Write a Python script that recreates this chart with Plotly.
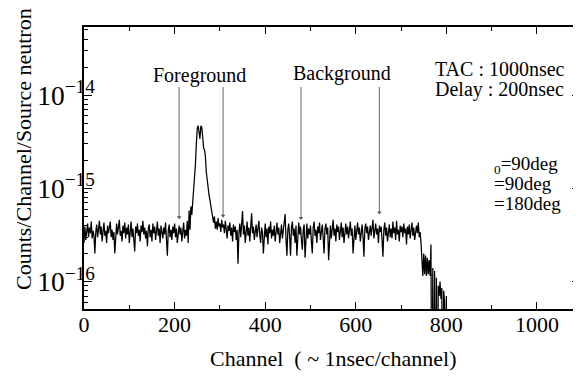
import plotly.graph_objects as go

# ---- data (counts per channel per source neutron, in units of 1e-16) ----
UNIT = 1e-16
CH_STEP = 2  # channel spacing of the sampled spectrum

# channels 0..230
seg_baseline_a = [
    2.6, 3.9, 2.8, 3.6, 4.2, 3.0, 3.8, 3.3, 4.4, 2.9,
    3.5, 3.1, 2.0, 3.4, 4.1, 3.0, 3.7, 4.5, 3.2, 3.9,
    2.7, 3.6, 4.3, 3.1, 3.5, 2.6, 4.0, 3.3, 3.8, 4.4,
    3.0, 3.6, 2.8, 3.4, 2.0, 3.7, 4.2, 3.2, 3.9, 4.6,
    3.1, 3.5, 2.7, 4.0, 3.3, 4.3, 2.9, 3.8, 3.2, 4.1,
    2.6, 3.6, 4.4, 3.0, 3.7, 2.8, 2.1, 3.9, 3.3, 4.2,
    3.1, 3.6, 2.7, 4.0, 3.4, 4.5, 3.2, 3.8, 2.9, 3.5,
    2.4, 3.7, 4.1, 3.0, 3.6, 2.7, 4.2, 3.3, 3.9, 2.8,
    3.5, 4.4, 3.1, 3.7, 2.6, 4.0, 3.4, 2.9, 3.8, 3.2,
    4.3, 2.7, 1.9, 3.5, 4.1, 3.0, 3.6, 2.8, 3.9, 3.3,
    4.2, 3.0, 3.7, 2.6, 3.4, 4.0, 3.2, 3.8, 2.7, 3.5,
    4.3, 2.9, 3.6, 3.1, 4.5, 2.6,
]
# channels 232..290 (foreground peak)
seg_peak = [
    5.8, 3.6, 6.4, 5.2, 7.0, 9.0, 12.0, 18.0, 30.0, 44.0,
    47.0, 36.0, 34.0, 47.0, 45.0, 36.0, 27.0, 26.0, 22.0, 15.0,
    12.0, 9.5, 8.5, 7.5, 6.5, 5.6, 5.0, 4.3, 5.0, 3.7,
]
# channels 292..740
seg_baseline_b = [
    4.4, 3.6, 4.8, 3.9, 4.2, 3.4, 4.6, 3.8, 4.1, 3.3,
    4.5, 3.7, 2.9, 4.0, 3.5, 4.3, 3.1, 3.8, 2.7, 4.1,
    3.4, 3.9, 2.8, 3.6, 1.55, 3.3, 4.2, 3.0, 4.6, 5.7,
    3.2, 4.0, 2.6, 3.7, 4.4, 3.1, 3.8, 2.7, 4.2, 5.4,
    3.3, 3.9, 2.8, 3.5, 4.1, 3.0, 3.7, 4.5, 3.2, 2.6,
    3.8, 3.4, 2.0, 3.6, 4.2, 3.0, 3.7, 2.5, 3.9, 3.3,
    4.4, 2.9, 3.6, 3.1, 4.0, 2.7, 3.5, 4.3, 3.2, 3.8,
    2.6, 3.4, 4.1, 2.9, 3.7, 4.5, 5.3, 2.8, 1.9, 3.6,
    4.2, 3.0, 1.9, 3.8, 4.4, 3.1, 3.7, 2.6, 4.0, 1.9,
    3.5, 4.3, 3.2, 3.9, 2.8, 2.2, 3.6, 4.1, 1.8, 3.4,
    4.2, 2.9, 3.7, 3.2, 4.0, 2.7, 2.0, 3.8, 4.4, 3.1,
    3.6, 2.6, 3.9, 3.3, 4.3, 2.8, 3.5, 4.1, 3.0, 2.0,
    3.7, 4.2, 3.2, 3.8, 1.7, 3.4, 4.0, 2.9, 3.6, 4.6,
    3.1, 3.7, 2.7, 4.1, 3.4, 3.9, 2.8, 3.5, 4.3, 3.0,
    3.8, 2.6, 3.6, 4.2, 3.2, 3.9, 2.9, 3.5, 4.4, 3.1,
    3.7, 2.0, 3.4, 4.0, 2.8, 3.6, 4.3, 3.2, 3.8, 2.7,
    3.5, 4.1, 3.0, 1.85, 3.7, 4.2, 3.3, 3.9, 2.8, 3.6,
    4.0, 3.1, 3.8, 4.6, 2.9, 3.5, 4.2, 3.2, 3.7, 2.6,
    4.0, 3.4, 3.9, 2.8, 1.85, 3.6, 4.3, 3.1, 3.8, 2.7,
    3.5, 4.1, 3.0, 3.7, 2.9, 4.4, 3.3, 3.8, 2.8, 4.5,
    3.2, 3.6, 2.7, 4.0, 3.4, 3.9, 3.0, 4.2, 3.3, 3.7,
    2.5, 3.9, 3.2, 4.1, 2.9, 3.6, 4.3, 3.1, 3.8, 2.8,
    3.5, 4.0, 3.3, 4.3, 3.0,
]
# channels 742..802 (cut-off; 0.01 = empty channel, below the axis)
seg_tail = [
    3.4, 2.6, 1.8, 1.15, 2.0, 1.2, 1.9, 1.15, 1.8, 1.2,
    1.7, 1.15, 2.5, 0.01, 1.4, 0.01, 1.3, 0.01, 1.1, 0.01,
    0.9, 0.7, 1.0, 0.65, 0.85, 0.01, 0.8, 0.6, 0.01, 0.7,
    0.01,
]

# gate markers (Foreground / Background windows)
gate_channels = [210, 307, 479, 652]
gate_top = 1.22e-14
gate_bottom = [4.9e-16, 5.1e-16, 4.8e-16, 5.5e-16]

x_tick_vals = [0, 200, 400, 600, 800, 1000]

# ---- build ----
counts = seg_baseline_a + seg_peak + seg_baseline_b + seg_tail
channels = [CH_STEP * i for i in range(len(counts))]
values = [c * UNIT for c in counts]

FONT = "Liberation Serif"
fig = go.Figure()

gx, gy = [], []
for ch, yb in zip(gate_channels, gate_bottom):
    gx += [ch, ch, None]
    gy += [gate_top, yb, None]
fig.add_trace(go.Scatter(x=gx, y=gy, mode="lines",
                         line=dict(color="#737373", width=1.1),
                         hoverinfo="skip", showlegend=False))
fig.add_trace(go.Scatter(x=gate_channels, y=gate_bottom, mode="markers",
                         marker=dict(symbol="triangle-down", size=4, color="#555555"),
                         hoverinfo="skip", showlegend=False))

fig.add_trace(go.Scatter(x=channels, y=values, mode="lines",
                         line=dict(color="black", width=1.25),
                         showlegend=False))

# page body adds an 8 px offset; figure sized so the plot lands where the reference's is
OFF = 8
W, H = 581 - OFF, 378 - OFF
PL, PR, PT, PB = 84, 580, 27, 309  # plot area in window pixels
L, T = PL - OFF, PT - OFF
R = W - (PR - OFF)
B = H - (PB - OFF)


def px(xp):
    return (xp - PL) / (PR - PL)


def py(yp):
    return (PB - yp) / (PB - PT)


fig.update_layout(
    width=W, height=H,
    margin=dict(l=L, r=R, t=T, b=B),
    plot_bgcolor="white", paper_bgcolor="white",
    font=dict(family=FONT, color="black", size=20),
    xaxis=dict(range=[0, 1095], tickvals=x_tick_vals, ticks="inside", ticklen=7,
               tickwidth=1, tickcolor="black", showline=True, linecolor="black",
               linewidth=1.5, mirror="ticks", showgrid=False, zeroline=False,
               tickfont=dict(family=FONT, size=22), ticklabelstandoff=-5,
               automargin=False,
               minor=dict(dtick=100, ticks="inside", ticklen=4, tickcolor="black",
                          showgrid=False)),
    yaxis=dict(type="log", range=[-16.294, -13.269], dtick=1, exponentformat="power",
               ticks="inside", ticklen=8, tickwidth=1, tickcolor="black",
               showline=True, linecolor="black", linewidth=1.5, mirror="ticks",
               showgrid=False, zeroline=False, automargin=False,
               tickfont=dict(family=FONT, size=22), ticklabelstandoff=-17,
               minor=dict(dtick="D1", ticks="inside", ticklen=4, tickcolor="black",
                          showgrid=False)),
)

ann = [
    ("Foreground", 199, 75, "center", 20),
    ("Background", 342, 73, "center", 20),
    ("TAC : 1000nsec", 433, 69, "left", 20),
    ("Delay : 200nsec", 433, 89, "left", 20),
    ("<sub>0</sub>=90deg", 492, 165, "left", 19),
    ("=90deg", 492, 183, "left", 19),
    ("=180deg", 492, 203, "left", 19),
]
for text, xp, yp, xa, fs in ann:
    fig.add_annotation(text=text, x=px(xp), y=py(yp), xref="paper", yref="paper",
                       xanchor=xa, yanchor="middle", showarrow=False,
                       font=dict(family=FONT, size=fs, color="black"))

fig.add_annotation(text="Channel&nbsp;&nbsp;( ~ 1nsec/channel)", x=px(333), y=py(358),
                   xref="paper", yref="paper", xanchor="center", yanchor="middle",
                   showarrow=False, font=dict(family=FONT, size=22, color="black"))
fig.add_annotation(text="Counts/Channel/Source neutron", x=px(23), y=py(149),
                   xref="paper", yref="paper", xanchor="center", yanchor="middle",
                   textangle=-90, showarrow=False,
                   font=dict(family=FONT, size=22, color="black"))

fig.write_html("out.html")
